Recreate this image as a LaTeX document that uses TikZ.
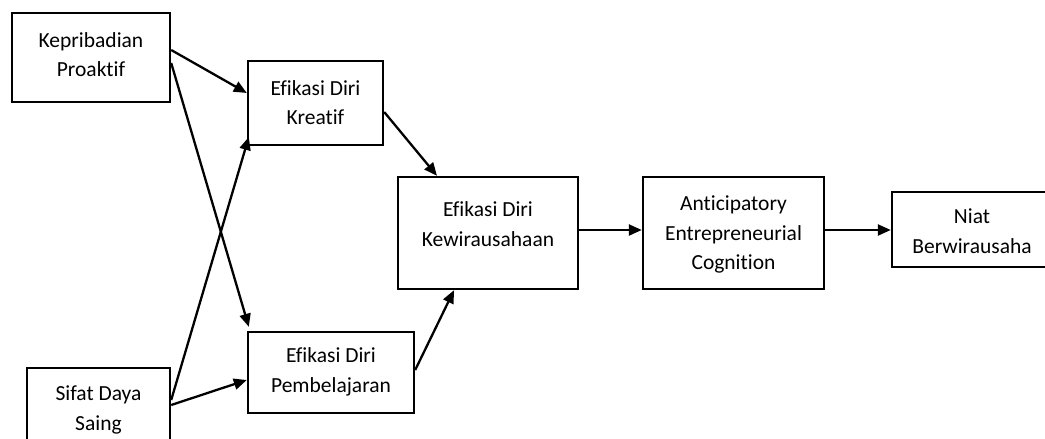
\documentclass[tikz,border=0pt]{standalone}
\usepackage{fontspec}
\setmainfont{Carlito}[Ligatures={NoCommon,NoContextual}]
\usetikzlibrary{arrows.meta}
\begin{document}
\begin{tikzpicture}[x=1pt,y=-1pt,
  box/.style={draw=black,line width=2.4pt,rectangle,inner sep=0pt},
  txt/.style={align=center,inner sep=0pt,font=\fontsize{21.5}{29.5}\selectfont},
  arr/.style={line width=2.3pt,-{Triangle[length=13pt,width=11pt]}}]
\useasboundingbox (0,0) rectangle (1045,439);
% boxes
\node[box,minimum width=158pt,minimum height=89pt] (kp) at (91,57.5) {};
\node[box,minimum width=135pt,minimum height=84pt] (kr) at (315.5,103) {};
\node[box,minimum width=180pt,minimum height=112pt] (kw) at (488,233) {};
\node[box,minimum width=181pt,minimum height=112pt] (ac) at (733.5,233) {};
\node[box,minimum width=160pt,minimum height=75pt] (ni) at (972,229.5) {};
\node[box,minimum width=166pt,minimum height=81pt] (pb) at (331,372.5) {};
\node[box,minimum width=143pt,minimum height=80pt] (sd) at (98.5,408) {};
% texts
\node[txt] (kpt) at (91,54.5) {Kepribadian\\Proaktif};
\node[txt] (krt) at (315.5,102.5) {Efikasi Diri\\Kreatif};
\node[txt] (kwt) at (488,224) {Efikasi Diri\\Kewirausahaan};
\node[txt] (act) at (733.5,234.5) {Anticipatory\\Entrepreneurial\\Cognition};
\node[txt] (nit) at (972,231) {Niat\\Berwirausaha};
\node[txt] (pbt) at (331,372) {Efikasi Diri\\Pembelajaran};
\node[txt] (sdt) at (98.5,410) {Sifat Daya\\Saing};
% arrows
\draw[arr] ([yshift=7.5pt]kp.east) -- ([yshift=10pt]kr.west);
\draw[arr] ([yshift=-5.5pt]kp.east) -- ([xshift=2pt,yshift=4pt]pb.north west);
\draw[arr] ([yshift=8pt]sd.east) -- ([xshift=2pt,yshift=-34pt]kr.west);
\draw[arr] ([yshift=3pt]sd.east) -- ([yshift=-7.5pt]pb.west);
\draw[arr] ([yshift=-9pt]kr.east) -- ([xshift=-51pt]kw.north);
\draw[arr] ([yshift=2.5pt]pb.east) -- ([xshift=-34pt]kw.south);
\draw[arr] ([yshift=3pt]kw.east) -- ([yshift=3pt]ac.west);
\draw[arr] ([yshift=3pt]ac.east) -- ([yshift=-0.5pt]ni.west);
\end{tikzpicture}
\end{document}
